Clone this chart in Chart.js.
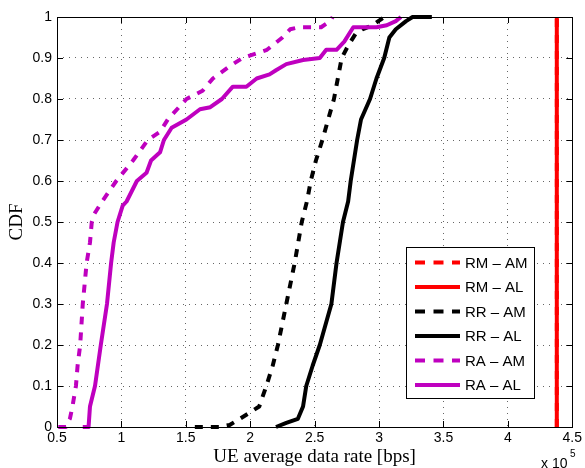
<!DOCTYPE html>
<html>
<head>
<meta charset="utf-8">
<script src="https://cdn.jsdelivr.net/npm/chart.js@4"></script>
<style>
html,body{margin:0;padding:0;background:#fff;}
#wrap{width:585px;height:468px;position:relative;}
</style>
</head>
<body>
<div id="wrap"><canvas id="c" width="585" height="468"></canvas></div>
<script>
// Data (x in units of 10^5 bps, y = CDF)
const seriesLabels = ["RM \u2013 AM", "RM \u2013 AL", "RR \u2013 AM", "RR \u2013 AL", "RA \u2013 AM", "RA \u2013 AL"];

const rmAmX = [4.38, 4.38];
const rmAmY = [0, 1];
const rmAlX = [4.38, 4.38];
const rmAlY = [0, 1];

const rrAmX = [1.57,1.76,1.84,1.92,2.02,2.07,2.125,2.175,2.215,2.28,2.345,2.40,2.44,2.47,2.51,2.56,2.65,2.71,2.76,2.82,2.87,2.95,3.04];
const rrAmY = [0,0,0.005,0.02,0.04,0.05,0.1,0.15,0.2,0.3,0.4,0.5,0.55,0.6,0.65,0.7,0.8,0.9,0.93,0.96,0.97,0.98,1.0];

const rrAlX = [2.20,2.28,2.37,2.41,2.435,2.485,2.54,2.63,2.67,2.72,2.76,2.78,2.83,2.86,2.93,2.98,3.04,3.08,3.13,3.21,3.26,3.41];
const rrAlY = [0,0.01,0.02,0.05,0.1,0.15,0.2,0.3,0.4,0.5,0.55,0.6,0.7,0.75,0.8,0.85,0.9,0.95,0.97,0.99,1.0,1.0];

const raAmX = [0.51,0.57,0.58,0.60,0.62,0.647,0.66,0.68,0.70,0.73,0.756,0.77,0.79,0.85,0.96,1.09,1.205,1.30,1.36,1.505,1.63,1.71,1.84,1.94,2.13,2.25,2.31,2.38,2.55,2.62,2.64];
const raAmY = [0,0,0.01,0.02,0.05,0.1,0.15,0.2,0.3,0.4,0.45,0.5,0.52,0.55,0.6,0.65,0.7,0.72,0.75,0.8,0.82,0.85,0.88,0.9,0.92,0.95,0.97,0.975,0.975,0.99,1.0];

const raAlX = [0.70,0.745,0.756,0.795,0.84,0.888,0.92,0.94,0.97,1.01,1.04,1.12,1.195,1.23,1.30,1.33,1.39,1.505,1.61,1.69,1.78,1.865,1.97,2.05,2.15,2.20,2.28,2.41,2.54,2.59,2.67,2.73,2.80,2.98,3.06,3.13,3.17];
const raAlY = [0,0,0.05,0.1,0.2,0.3,0.4,0.45,0.5,0.54,0.55,0.6,0.62,0.65,0.67,0.7,0.73,0.75,0.775,0.78,0.8,0.83,0.83,0.85,0.86,0.87,0.885,0.895,0.9,0.92,0.92,0.94,0.975,0.975,0.98,0.99,1.0];

const xTickMin = 0.5, xTickMax = 4.5, xTickStep = 0.5;
const yTickMin = 0, yTickMax = 1, yTickStep = 0.1;
const xTitle = "UE average data rate [bps]";
const yTitle = "CDF";
const xExponent = "5";

const RED = "#ff0000", BLACK = "#000000", MAG = "#bf00bf";
const DASH = [8, 8];

function pts(xs, ys) { return xs.map((x, i) => ({ x: x, y: ys[i] })); }
function fmt(v) { return String(parseFloat(Number(v).toFixed(3))); }

const styles = [
  { c: RED, d: DASH }, { c: RED, d: [] },
  { c: BLACK, d: DASH }, { c: BLACK, d: [] },
  { c: MAG, d: DASH }, { c: MAG, d: [] }
];
const xsList = [rmAmX, rmAlX, rrAmX, rrAlX, raAmX, raAlX];
const ysList = [rmAmY, rmAlY, rrAmY, rrAlY, raAmY, raAlY];

const datasets = seriesLabels.map((lab, i) => ({
  label: lab,
  data: pts(xsList[i], ysList[i]),
  borderColor: styles[i].c,
  backgroundColor: styles[i].c,
  borderDash: styles[i].d,
  borderWidth: 4,
  borderCapStyle: 'butt',
  borderJoinStyle: 'round',
  pointRadius: 0,
  showLine: true,
  tension: 0,
  fill: false,
  clip: false,
  order: 5 - i
}));

const framePlugin = {
  id: 'frame',
  afterDraw(chart) {
    const ctx = chart.ctx, a = chart.chartArea;
    const xs = chart.scales.x, ys = chart.scales.y;
    ctx.save();
    ctx.strokeStyle = '#000';
    ctx.lineWidth = 1;
    ctx.setLineDash([]);
    ctx.strokeRect(Math.round(a.left) + 0.5, Math.round(a.top) + 0.5, Math.round(a.right - a.left), Math.round(a.bottom - a.top));
    const tl = 6;
    ctx.beginPath();
    xs.ticks.forEach(t => {
      const px = Math.round(xs.getPixelForValue(t.value)) + 0.5;
      ctx.moveTo(px, a.bottom); ctx.lineTo(px, a.bottom - tl);
      ctx.moveTo(px, a.top); ctx.lineTo(px, a.top + tl);
    });
    ys.ticks.forEach(t => {
      const py = Math.round(ys.getPixelForValue(t.value)) + 0.5;
      ctx.moveTo(a.left, py); ctx.lineTo(a.left + tl, py);
      ctx.moveTo(a.right, py); ctx.lineTo(a.right - tl, py);
    });
    ctx.stroke();

    // legend
    const lx = 406, ly = 247, lw = 128, lh = 151;
    ctx.fillStyle = '#fff';
    ctx.fillRect(lx, ly, lw, lh);
    ctx.strokeStyle = '#000';
    ctx.strokeRect(lx + 0.5, ly + 0.5, lw, lh);
    ctx.font = '15px "Liberation Sans", Arial, sans-serif';
    ctx.textBaseline = 'middle';
    ctx.textAlign = 'left';
    chart.data.datasets.forEach((ds, i) => {
      const y = 262.5 + i * 24.5;
      ctx.beginPath();
      ctx.strokeStyle = ds.borderColor;
      ctx.lineWidth = 4;
      ctx.lineCap = 'butt';
      ctx.setLineDash(ds.borderDash.length ? [10, 8.5] : []);
      ctx.moveTo(415, y); ctx.lineTo(460, y);
      ctx.stroke();
      ctx.setLineDash([]);
      ctx.fillStyle = '#000';
      ctx.fillText(ds.label, 465, y + 1);
    });

    // exponent label
    ctx.fillStyle = '#000';
    ctx.textBaseline = 'alphabetic';
    ctx.font = '14px "Liberation Sans", Arial, sans-serif';
    ctx.fillText('x 10', 541, 468);
    ctx.font = '10px "Liberation Sans", Arial, sans-serif';
    ctx.fillText(xExponent, 570, 457);
    ctx.restore();
  }
};

const tickFont = { family: '"Liberation Sans", Arial, sans-serif', size: 14 };
const titleFont = { family: '"Liberation Serif", "Times New Roman", serif', size: 19 };

new Chart(document.getElementById('c'), {
  type: 'scatter',
  data: { datasets: datasets },
  options: {
    responsive: false,
    animation: false,
    events: [],
    layout: { padding: { left: 0, top: 17, right: 12, bottom: 0 } },
    plugins: { legend: { display: false }, tooltip: { enabled: false } },
    scales: {
      x: {
        type: 'linear', min: xTickMin, max: xTickMax,
        ticks: { stepSize: xTickStep, color: '#000', font: tickFont, padding: 3, maxRotation: 0, autoSkip: false, callback: fmt },
        grid: { color: 'rgba(0,0,0,0.6)', lineWidth: 1, drawTicks: false },
        border: { display: false, dash: [1, 5] },
        title: { display: true, text: xTitle, color: '#000', font: titleFont, padding: { top: 0, bottom: 0 } },
        afterFit(s) { s.height = 41; }
      },
      y: {
        type: 'linear', min: yTickMin, max: yTickMax,
        ticks: { stepSize: yTickStep, color: '#000', font: tickFont, padding: 5, autoSkip: false, callback: fmt },
        grid: { color: 'rgba(0,0,0,0.6)', lineWidth: 1, drawTicks: false },
        border: { display: false, dash: [1, 5] },
        title: { display: true, text: yTitle, color: '#000', font: titleFont, padding: { top: 6, bottom: 0 } },
        afterFit(s) { s.width = 57; }
      }
    }
  },
  plugins: [framePlugin]
});
</script>
</body>
</html>
